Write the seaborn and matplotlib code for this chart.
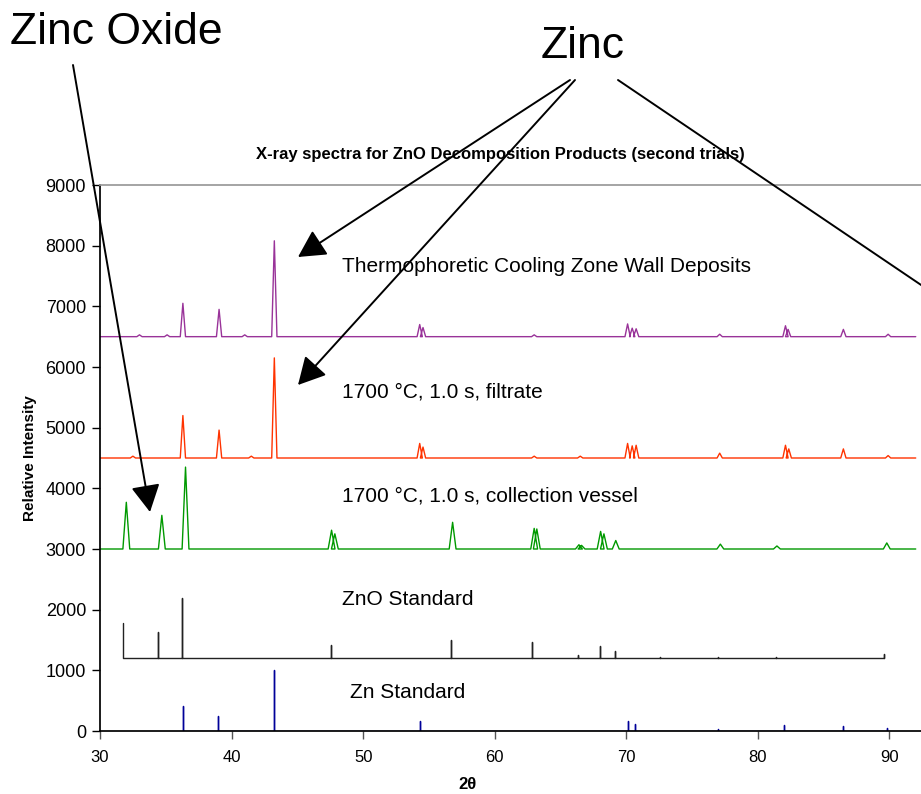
import numpy as np
import pandas as pd
import matplotlib
matplotlib.use("Agg")
import matplotlib.pyplot as plt
import seaborn as sns

# -------------------------------
# Data (2-theta, intensity)
# -------------------------------
# peaks: centre (deg), apex intensity (counts, already offset)
thermo_base = 6500
thermo_pos = [33.0, 35.1, 36.3, 39.05, 41.0, 43.25, 54.3, 54.55, 63.0, 70.1, 70.45, 70.75, 77.1, 82.1, 82.3, 86.5, 89.9]
thermo_top = [6530, 6530, 7050, 6950, 6530, 8080, 6700, 6650, 6530, 6710, 6640, 6630, 6540, 6680, 6620, 6620, 6540]

filt_base = 4500
filt_pos = [32.5, 36.3, 39.05, 41.5, 43.25, 54.3, 54.55, 63.0, 66.5, 70.1, 70.45, 70.75, 77.1, 82.1, 82.35, 86.5, 89.9]
filt_top = [4530, 5200, 4960, 4530, 6150, 4740, 4680, 4530, 4530, 4740, 4700, 4710, 4580, 4710, 4650, 4650, 4540]

vessel_base = 3000
vessel_pos = [32.0, 34.7, 36.5, 47.6, 47.85, 56.8, 63.0, 63.2, 66.4, 66.6, 68.05, 68.3, 69.2, 77.15, 81.45, 89.8]
vessel_top = [3770, 3555, 4350, 3310, 3250, 3440, 3340, 3330, 3070, 3060, 3290, 3250, 3140, 3080, 3050, 3100]

zno_base = 1200
zno_pos = [31.77, 34.43, 36.26, 47.54, 56.67, 62.83, 66.32, 67.98, 69.11, 72.6, 76.95, 81.4, 89.6]
zno_top = [1775, 1630, 2200, 1410, 1500, 1460, 1250, 1400, 1320, 1225, 1225, 1225, 1265]

zn_base = 0
zn_pos = [36.3, 39.0, 43.23, 54.3, 70.1, 70.65, 77.0, 82.0, 86.5, 89.85]
zn_top = [410, 255, 1000, 165, 165, 110, 30, 105, 80, 50]

labels = ["Thermophoretic Cooling Zone Wall Deposits",
          "1700 °C, 1.0 s, filtrate",
          "1700 °C, 1.0 s, collection vessel",
          "ZnO Standard",
          "Zn Standard"]
label_x = [48.4, 48.4, 48.4, 48.4, 49.0]
label_y = [7650, 5580, 3880, 2160, 640]

colors = ["#993399", "#ff3300", "#009900", "#222222", "#000099"]


def peak_trace(name, base, pos, top, start, end, half_width):
    xs, ys = [start], [base]
    for c, h in zip(pos, top):
        if half_width > 0:
            xs += [c - half_width, c, c + half_width]
        else:
            xs += [c, c, c]
        ys += [base, h, base]
    xs.append(end)
    ys.append(base)
    return pd.DataFrame({"two_theta": xs, "intensity": ys, "sample": name})


frames = [
    peak_trace(labels[0], thermo_base, thermo_pos, thermo_top, 30.0, 92.0, 0.2),
    peak_trace(labels[1], filt_base, filt_pos, filt_top, 30.0, 92.0, 0.2),
    peak_trace(labels[2], vessel_base, vessel_pos, vessel_top, 30.0, 92.0, 0.26),
    peak_trace(labels[3], zno_base, zno_pos, zno_top, zno_pos[0], zno_pos[-1], 0.0),
    peak_trace(labels[4], zn_base, zn_pos, zn_top, zn_pos[0], zn_pos[-1], 0.0),
]
# ZnO pattern starts at the top of its first stick
frames[3] = frames[3].iloc[2:].reset_index(drop=True)
df = pd.concat(frames, ignore_index=True)

# -------------------------------
# Plot
# -------------------------------
sns.set_theme(style="ticks")
plt.rcParams['font.family'] = ['Liberation Sans', 'DejaVu Sans']
plt.rcParams['text.color'] = 'black'
plt.rcParams['axes.labelcolor'] = 'black'
plt.rcParams['xtick.labelcolor'] = 'black'
plt.rcParams['ytick.labelcolor'] = 'black'

fig = plt.figure(figsize=(9.21, 7.94), dpi=100)
ax = fig.add_axes([100 / 921, 63 / 794, 1 - 100 / 921, (731 - 185) / 794])

sns.lineplot(data=df, x="two_theta", y="intensity", hue="sample",
             palette=dict(zip(labels, colors)), estimator=None, sort=False,
             legend=False, linewidth=1.0, ax=ax)

ax.set_xlim(30, 92.4)
ax.set_ylim(0, 9000)
ax.set_xticks([30, 40, 50, 60, 70, 80, 90])
ax.set_yticks(range(0, 9001, 1000))
ax.tick_params(axis='x', labelsize=12, length=6, width=1, color='#555555', pad=8)
ax.tick_params(axis='y', labelsize=13, length=6, width=1, color='black', pad=4)
ax.spines['right'].set_visible(False)
ax.spines['top'].set_color('#999999')
ax.spines['left'].set_color('black')
ax.spines['bottom'].set_color('black')

ax.set_xlabel("2θ", fontsize=12, fontweight='bold')
ax.set_ylabel("Relative Intensity", fontsize=11, fontweight='bold')
ax.xaxis.set_label_coords((467 - 100) / 821, -0.085)
ax.yaxis.set_label_coords(-0.077, 0.5)

for txt, tx, ty in zip(labels, label_x, label_y):
    ax.text(tx, ty, txt, fontsize=15, va='center', ha='left', color='black')

fig.text(500 / 921, 1 - 155 / 794,
         "X-ray spectra for ZnO Decomposition Products (second trials)",
         fontsize=12, fontweight='bold', ha='center', va='center')

# callouts
fig.text(10 / 921, 1 - 32 / 794, "Zinc Oxide", fontsize=32, ha='left', va='center')
fig.text(583 / 921, 1 - 46 / 794, "Zinc", fontsize=32, ha='center', va='center')


def fp(px, py):
    return (px / 921, 1 - py / 794)


arrow = dict(arrowstyle='-|>,head_length=0.6,head_width=0.32', color='black',
             lw=1.4, mutation_scale=28, shrinkA=0, shrinkB=0)
for start, tip in [((73, 65), (150, 512)), ((570, 80), (298, 257)), ((575, 80), (298, 385))]:
    ax.annotate("", xy=fp(*tip), xytext=fp(*start), xycoords='figure fraction',
                textcoords='figure fraction', arrowprops=arrow, annotation_clip=False)
ax.annotate("", xy=fp(930, 291), xytext=fp(618, 80), xycoords='figure fraction',
            textcoords='figure fraction',
            arrowprops=dict(arrowstyle='-', color='black', lw=1.4, shrinkA=0, shrinkB=0),
            annotation_clip=False)

fig.savefig("out.png", dpi=100)
